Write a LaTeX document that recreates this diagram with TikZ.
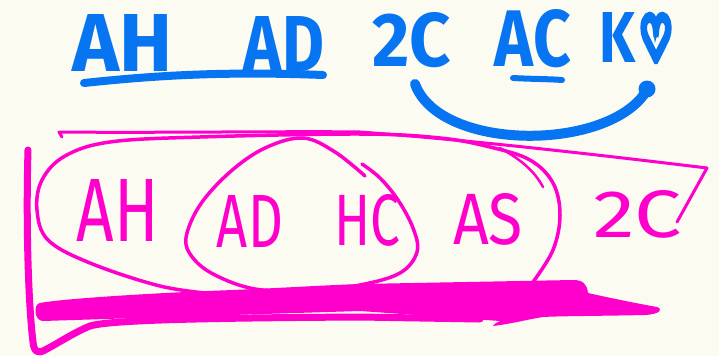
\documentclass[tikz,border=0pt]{standalone}
\usepackage{fontspec}
\usepackage{graphicx}
\setmainfont{Fira Sans}
\newfontfamily\heartfont[FakeBold=16]{DejaVu Sans}
\definecolor{paper}{HTML}{FBFBF1}
\definecolor{inkblue}{HTML}{0774F2}
\definecolor{inkpink}{HTML}{FF00CC}
\tikzset{
  bluetext/.style={text=inkblue, inner sep=0pt, font=\bfseries},
  pinktext/.style={text=inkpink, inner sep=0pt},
  bluepen/.style={draw=inkblue, line cap=round, line join=round},
  pinkpen/.style={draw=inkpink, line cap=round, line join=round, line width=3.5pt},
}
% word squeezed into a box of given width and cap height
\newcommand{\fitword}[3]{\resizebox{#1pt}{#2pt}{#3}}
\begin{document}
\begin{tikzpicture}[x=1pt,y=-1pt]
\fill[paper] (0,0) rectangle (719,356);
\useasboundingbox (0,0) rectangle (719,356);

% ---- blue row of cards ----
\node[bluetext] (topAH) at (123,43) {\fitword{100}{57}{AH}};
\node[bluetext] (topAD) at (284,44) {\fitword{80}{55}{AD}};
\node[bluetext] (top2C) at (412,40) {\fitword{78}{54}{2C}};
\node[bluetext] (topAC) at (533,39) {\fitword{76}{57}{AC}};
\node[bluetext] (topK) at (617,37) {\fitword{36}{50}{K}};
\node[text=inkblue, inner sep=0pt] (topHeart) at (656,38) {\fitword{32}{43}{\heartfont ♡}};

% underlines
\draw[bluepen, line width=8pt] (84,83) .. controls (150,76) and (220,71) .. (323,75);
\draw[bluepen, line width=6pt] (513,78) .. controls (530,79) and (550,79) .. (562,80);
% smile under 2C ... KH
\draw[bluepen, line width=10pt] (415,84) .. controls (440,152) and (610,152) .. (647,90);
\fill[inkblue] (647,89) circle (8.5);

% ---- pink groups ----
% long top line with its corner on the right
\draw[pinkpen, line width=3pt] (62,137) -- (59,132) .. controls (150,133) and (300,131) .. (360,132)
  .. controls (470,140) and (600,155) .. (707,168) -- (677,222);
% big loop round AH AD HC AS
\draw[pinkpen] plot[smooth, tension=0.6] coordinates {(533,282) (553,250) (560,215) (553,183)
  (530,160) (490,147) (440,138) (360,134) (200,137) (110,142) (65,156) (42,180) (37,210)
  (48,240) (90,263) (160,286) (215,294)};
\draw[pinkpen, line width=2.5pt] (500,148) .. controls (522,160) and (535,172) .. (543,187);
% loop round AD HC
\draw[pinkpen] plot[smooth, tension=0.6] coordinates {(365,176) (335,152) (303,138) (265,148)
  (230,172) (200,205) (186,238) (193,258) (215,275) (255,289) (310,291) (360,285) (400,273)
  (417,252) (413,228) (398,200) (380,178) (362,164)};

% heavy base stroke
\fill[inkpink] (40,303) .. controls (60,299) and (150,293) .. (233,290)
  .. controls (300,287) and (330,285) .. (360,284) -- (573,280)
  .. controls (583,280) and (587,284) .. (588,293)
  .. controls (610,298) and (640,304) .. (657,307)
  .. controls (663,309) and (661,314) .. (645,315)
  .. controls (600,316) and (560,316) .. (543,317)
  .. controls (525,320) and (510,324) .. (493,326)
  .. controls (495,323) and (498,322) .. (500,321)
  -- (360,311) -- (200,316) -- (43,321)
  .. controls (34,321) and (33,304) .. (40,303) -- cycle;
% frame on the left and bottom
\draw[pinkpen, line width=7pt] (28,150) .. controls (26,220) and (28,300) .. (33,342)
  .. controls (34,352) and (38,354) .. (45,350)
  .. controls (60,342) and (75,332) .. (90,326)
  .. controls (110,320) and (200,318) .. (360,317) -- (480,319);

% pink labels
\node[pinktext] (loopAH) at (118,210) {\fitword{82}{62}{AH}};
\node[pinktext] (loopAD) at (250,221) {\fitword{66}{52}{AD}};
\node[pinktext] (loopHC) at (367,220) {\fitword{66}{51}{HC}};
\node[pinktext] (loopAS) at (488,219) {\fitword{70}{51}{AS}};
\node[pinktext] (loose2C) at (638,214) {\fitword{88}{47}{2C}};
\end{tikzpicture}
\end{document}
